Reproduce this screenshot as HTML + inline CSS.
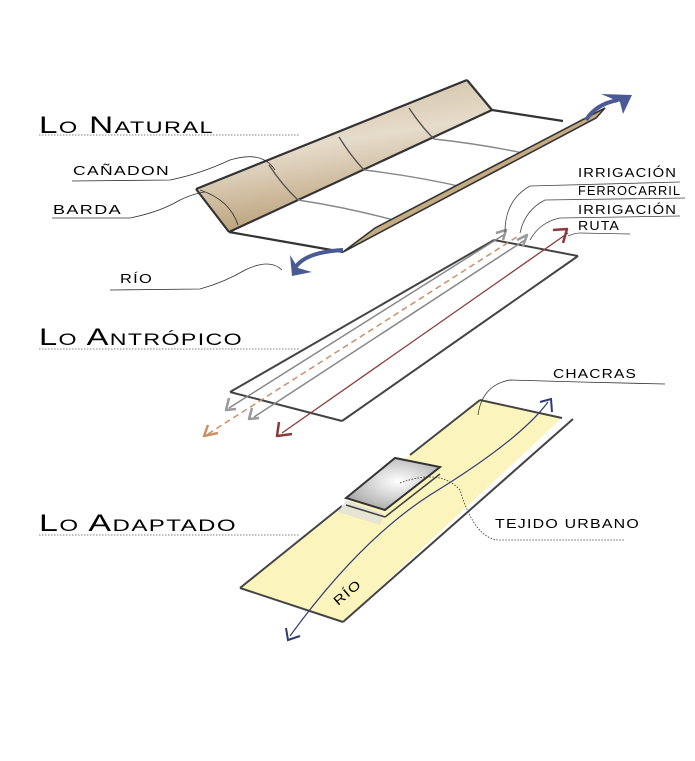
<!DOCTYPE html>
<html><head><meta charset="utf-8"><style>
html,body{margin:0;padding:0;background:#fff;width:695px;height:761px;overflow:hidden}
text{font-family:"Liberation Sans",sans-serif;fill:#000}
.big{font-size:24px;font-variant:small-caps;letter-spacing:1px}
.sm{font-size:13px;letter-spacing:1px}
</style></head><body>
<svg width="695" height="761" viewBox="0 0 695 761" xmlns="http://www.w3.org/2000/svg">
<defs>
<linearGradient id="tan" x1="0" y1="0" x2="0.3" y2="1">
<stop offset="0" stop-color="#c9b492"/><stop offset="0.5" stop-color="#e6dccb"/><stop offset="1" stop-color="#b89d74"/></linearGradient>
<radialGradient id="bld" cx="0.55" cy="0.45" r="0.6"><stop offset="0" stop-color="#fff"/><stop offset="1" stop-color="#aaa"/></radialGradient>
</defs>

<text class="big" x="39" y="133" textLength="175" lengthAdjust="spacingAndGlyphs">Lo Natural</text>
<line x1="39" y1="135" x2="300" y2="135" stroke="#555" stroke-width="0.8" stroke-dasharray="1.5 1.5"/>
<text class="big" x="39" y="345" textLength="204" lengthAdjust="spacingAndGlyphs">Lo Antrópico</text>
<line x1="39" y1="349" x2="300" y2="349" stroke="#555" stroke-width="0.8" stroke-dasharray="1.5 1.5"/>
<text class="big" x="39" y="531" textLength="198" lengthAdjust="spacingAndGlyphs">Lo Adaptado</text>
<line x1="39" y1="535" x2="300" y2="535" stroke="#555" stroke-width="0.8" stroke-dasharray="1.5 1.5"/>

<polygon points="196,189 467,80 492,110 229,232" fill="url(#tan)"/>
<g stroke="#333" stroke-width="2.2" fill="none">
<line x1="196" y1="189" x2="467" y2="80"/>
<line x1="229" y1="232" x2="492" y2="110"/>
<line x1="196" y1="189" x2="229" y2="232"/>
<line x1="467" y1="80" x2="492" y2="110"/>
<line x1="492" y1="110" x2="563" y2="121"/>
<line x1="229" y1="232" x2="343" y2="252"/>
</g>
<g stroke="#555" stroke-width="1.4" fill="none">
<path d="M269,165 Q282,185 298,200"/>
<path d="M339,137 Q350,155 364,170"/>
<path d="M409,108 Q420,125 434,139"/>
</g>
<g stroke="#888" stroke-width="1.4" fill="none">
<path d="M298,200 Q350,208 397,221"/>
<path d="M364,170 Q415,176 463,187"/>
<path d="M434,139 Q480,144 523,153"/>
</g>
<polygon points="343,252 375,228 605,108 596,118" fill="#c4ab82" stroke="#333" stroke-width="1.6"/>
<path d="M200,190 Q230,200 238,225" stroke="#333" stroke-width="0.9" fill="none"/>
<path d="M343,250 Q305,252 295,268" stroke="#4a5a95" stroke-width="4" fill="none"/>
<polygon points="290,255 292,276 312,272 298,268" fill="#4a5a95"/>
<path d="M586,120 Q596,104 618,100" stroke="#4a5a95" stroke-width="4" fill="none"/>
<polygon points="601,94 632,95 623,114 620,102" fill="#4a5a95"/>

<text class="sm" x="73" y="175" textLength="97" lengthAdjust="spacingAndGlyphs">CAÑADON</text>
<path d="M72,181 L170,180 Q200,174 230,160 Q262,150 275,170" stroke="#333" stroke-width="0.8" fill="none"/>
<text class="sm" x="53" y="214" textLength="69" lengthAdjust="spacingAndGlyphs">BARDA</text>
<path d="M52,218 L130,218 Q160,212 180,200 Q195,193 205,192" stroke="#333" stroke-width="0.8" fill="none"/>
<text class="sm" x="120" y="283" textLength="33" lengthAdjust="spacingAndGlyphs">RÍO</text>
<path d="M110,290 L200,289 Q225,282 245,270 Q270,258 282,270" stroke="#333" stroke-width="0.8" fill="none"/>

<g stroke="#444" stroke-width="2" fill="none">
<line x1="230" y1="392" x2="494" y2="240"/>
<line x1="230" y1="392" x2="342" y2="421"/>
<line x1="342" y1="421" x2="578" y2="256"/>
<line x1="494" y1="240" x2="578" y2="256"/>
</g>
<g stroke="#888" stroke-width="1.5" fill="none">
<line x1="229" y1="408" x2="505" y2="234"/>
<line x1="254" y1="417" x2="525" y2="240"/>
</g>
<line x1="208" y1="434" x2="520" y2="235" stroke="#c8916a" stroke-width="1.5" stroke-dasharray="6 4"/>
<line x1="282" y1="433" x2="568" y2="233" stroke="#8a3a3a" stroke-width="1.3"/>
<g fill="none" stroke-width="2.5" stroke-linejoin="round">
<path d="M229,398 L226,410 L236,409" stroke="#999"/>
<path d="M252,408 L249,419 L259,418" stroke="#999"/>
<path d="M208,425 L204,436 L218,433" stroke="#c8916a"/>
<path d="M279,422 L277,436 L292,434" stroke="#8a3a3a"/>
<path d="M496,233 L506,230 L503,240" stroke="#999"/>
<path d="M517,240 L527,235 L523,246" stroke="#999"/>
<path d="M553,230 L567,229 L563,243" stroke="#8a3a3a"/>
</g>
<text class="sm" x="578" y="177" textLength="99" lengthAdjust="spacingAndGlyphs">IRRIGACIÓN</text>
<path d="M505,232 Q505,200 530,186 L680,182" stroke="#444" stroke-width="0.8" fill="none"/>
<text class="sm" x="578" y="195" textLength="103" lengthAdjust="spacingAndGlyphs">FERROCARRIL</text>
<path d="M520,233 Q525,210 545,200 L685,198" stroke="#444" stroke-width="0.8" fill="none"/>
<text class="sm" x="578" y="214" textLength="99" lengthAdjust="spacingAndGlyphs">IRRIGACIÓN</text>
<path d="M530,240 Q540,222 560,218 L680,216" stroke="#444" stroke-width="0.8" fill="none"/>
<text class="sm" x="578" y="230" textLength="42" lengthAdjust="spacingAndGlyphs">RUTA</text>
<path d="M568,236 Q575,233 580,233 L630,234" stroke="#444" stroke-width="0.8" fill="none"/>

<polygon points="240,588 480,400 562,418 343,622" fill="#fbf3b5" opacity="0.9"/>
<g stroke="#444" stroke-width="2" fill="none">
<line x1="240" y1="588" x2="342" y2="506"/>
<line x1="410" y1="455" x2="480" y2="400"/>
<line x1="480" y1="400" x2="562" y2="418"/>
<line x1="240" y1="588" x2="343" y2="622"/>
<line x1="343" y1="622" x2="573" y2="419"/>
</g>
<polygon points="338,512 346,500 384,514 380,525" fill="#ddd" opacity="0.7"/>
<polygon points="346,498 395,458 440,467 385,510" fill="url(#bld)" stroke="#333" stroke-width="2"/>
<line x1="346" y1="505" x2="385" y2="517" stroke="#444" stroke-width="1.6"/>
<line x1="385" y1="517" x2="440" y2="474" stroke="#444" stroke-width="1.6"/>
<path d="M290,636 Q360,540 430,495 Q520,440 548,402" stroke="#2f3a75" stroke-width="1.2" fill="none"/>
<path d="M286,628 L288,640 L300,636" stroke="#2f3a75" stroke-width="2" fill="none"/>
<path d="M540,402 L551,399 L552,412" stroke="#2f3a75" stroke-width="2" fill="none"/>
<text class="sm" x="0" y="0" transform="translate(338,606) rotate(-40)" textLength="32" lengthAdjust="spacingAndGlyphs">RÍO</text>
<text class="sm" x="553" y="378" textLength="84" lengthAdjust="spacingAndGlyphs">CHACRAS</text>
<path d="M478,415 Q482,385 510,380 L580,382 L665,384" stroke="#333" stroke-width="0.8" fill="none"/>
<text class="sm" x="495" y="528" textLength="145" lengthAdjust="spacingAndGlyphs">TEJIDO URBANO</text>
<path d="M400,483 Q440,468 460,490 Q475,540 500,540 L625,540" stroke="#333" stroke-width="0.8" fill="none" stroke-dasharray="1.5 1.5"/>
</svg>
</body></html>
